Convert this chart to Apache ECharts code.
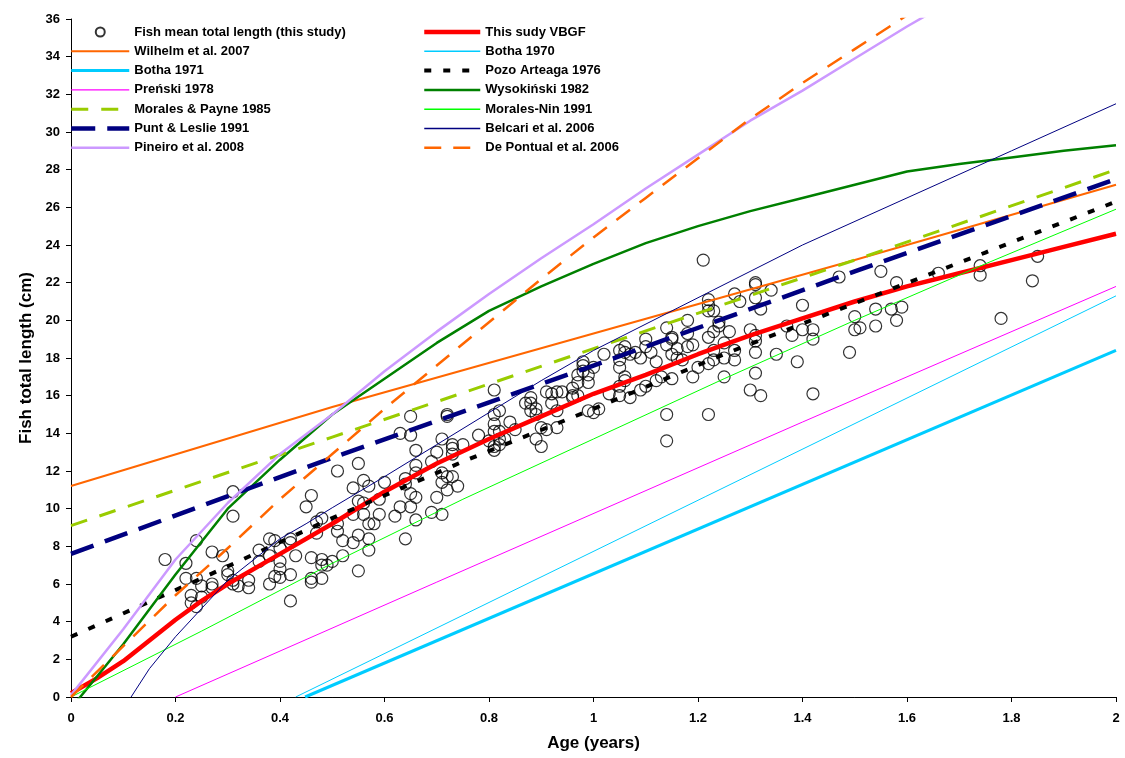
<!DOCTYPE html>
<html>
<head>
<meta charset="utf-8">
<script src="https://cdn.jsdelivr.net/npm/echarts@6/dist/echarts.min.js"></script>
<style>
html,body{margin:0;padding:0;background:#fff;}
#c{width:1125px;height:758px;}
</style>
</head>
<body>
<div id="c"></div>
<script>
// ---------- DATA ----------
const xTicks = [0,0.2,0.4,0.6,0.8,1,1.2,1.4,1.6,1.8,2];
const yTicks = [0,2,4,6,8,10,12,14,16,18,20,22,24,26,28,30,32,34,36];

const fishMeanLength = [
[0.18,7.3],[0.22,7.1],[0.24,8.3],[0.31,9.6],[0.31,10.9],[0.27,7.7],[0.29,7.5],[0.22,6.3],[0.24,6.3],[0.25,5.9],
[0.27,6.0],[0.27,5.8],[0.23,5.4],[0.25,5.3],[0.23,5.0],[0.24,4.8],[0.30,6.7],[0.30,6.5],[0.31,6.2],[0.31,6.0],
[0.32,5.9],[0.34,6.2],[0.34,5.8],[0.36,7.8],[0.36,7.2],[0.38,8.4],[0.38,7.5],[0.39,8.3],[0.40,7.2],[0.40,6.8],
[0.39,6.4],[0.40,6.35],[0.38,6.0],[0.40,7.9],[0.42,8.4],[0.42,8.2],[0.43,7.5],[0.42,6.5],[0.42,5.1],[0.45,10.1],
[0.46,10.7],[0.47,9.3],[0.48,9.5],[0.47,8.7],[0.46,7.4],[0.46,6.3],[0.46,6.1],[0.48,6.3],[0.48,7.3],[0.48,7.0],
[0.49,7.0],[0.50,7.2],[0.51,9.2],[0.51,8.8],[0.52,8.3],[0.52,7.5],[0.54,11.1],[0.55,10.4],[0.54,9.7],[0.55,8.6],
[0.54,8.2],[0.55,6.7],
[0.65,14.9],[0.63,14.0],[0.65,13.9],[0.72,14.9],[0.72,15.0],[0.71,13.7],[0.81,16.3],[0.51,12.0],[0.55,12.4],[0.56,11.5],
[0.57,11.2],[0.60,11.4],[0.56,10.3],[0.59,10.5],[0.56,9.7],[0.59,9.7],[0.57,9.2],[0.58,9.2],[0.57,8.4],[0.57,7.8],
[0.62,9.6],[0.64,8.4],[0.66,9.4],[0.69,9.8],[0.71,9.7],[0.63,10.1],[0.65,10.1],[0.66,10.6],[0.65,10.8],[0.64,11.3],
[0.64,11.6],[0.66,11.9],[0.66,13.1],[0.66,12.3],[0.69,12.5],[0.70,13.0],[0.70,10.6],[0.72,11.0],[0.71,11.4],[0.72,11.7],
[0.71,11.9],[0.73,11.7],[0.74,11.2],[0.73,13.2],[0.73,12.9],[0.73,13.4],[0.75,13.4],[0.78,13.9],[0.81,15.0],[0.82,15.2],
[0.81,14.5],[0.84,14.6],[0.82,14.1],[0.85,14.2],[0.81,14.1],[0.80,13.6],[0.81,13.1],[0.82,13.7],[0.82,13.4],[0.81,13.3],
[0.83,13.7],[0.87,15.6],[0.88,15.9],[0.88,15.6],[0.88,15.2],[0.89,15.3],[0.91,16.2],[0.92,16.1],[0.93,16.2],[0.94,16.2],
[0.92,15.6],[0.89,15.0],[0.90,14.3],[0.91,14.2],[0.93,14.3],[0.89,13.7],[0.90,13.3],[0.93,15.2],[0.96,15.9],[0.96,16.0],
[0.97,16.0],[0.96,16.4],[0.97,16.7],[0.99,16.7],[0.97,17.1],[0.98,17.3],[0.99,17.1],[0.98,17.6],[1.00,17.5],[0.98,17.8],
[0.99,15.2],[1.01,15.3],[1.00,15.1],
[1.21,23.2],[1.31,21.9],[1.31,22.0],[1.34,21.6],[1.27,21.4],[1.28,21.0],[1.31,21.2],[1.47,22.3],[1.40,20.8],[1.32,20.6],
[1.22,21.1],[1.22,20.8],[1.22,20.5],[1.23,20.5],[1.18,20.0],[1.24,19.9],[1.24,19.7],[1.26,19.4],[1.23,19.4],[1.22,19.1],
[1.25,18.8],[1.30,19.5],[1.31,19.2],[1.31,18.9],[1.31,18.3],[1.27,18.4],[1.27,17.9],[1.23,18.4],[1.23,17.9],[1.19,18.7],
[1.18,18.6],[1.18,19.3],[1.14,19.6],[1.15,19.0],[1.15,19.1],[1.14,18.7],[1.16,18.5],[1.15,18.2],[1.16,18.0],[1.17,17.9],
[1.10,19.0],[1.10,18.6],[1.08,18.3],[1.11,18.3],[1.12,17.8],[1.09,18.0],[1.02,18.2],[1.05,16.0],[1.03,16.1],[1.07,15.9],
[1.09,16.3],[1.05,16.5],[1.06,17.0],[1.05,17.9],[1.05,18.4],[1.06,18.6],[1.06,18.3],[1.05,17.5],[1.06,16.8],[1.07,18.2],
[1.10,16.5],[1.12,16.8],[1.13,17.0],[1.15,16.9],[1.19,17.0],[1.20,17.5],[1.22,17.7],[1.25,18.0],[1.25,17.0],[1.14,15.0],
[1.22,15.0],[1.14,13.6],[1.30,16.3],[1.32,16.0],[1.31,17.2],[1.35,18.2],[1.37,19.7],[1.38,19.2],[1.39,17.8],[1.40,19.5],
[1.42,19.5],[1.42,19.0],[1.42,16.1],[1.49,18.3],
[1.55,22.6],[1.58,22.0],[1.66,22.5],[1.74,22.9],[1.74,22.4],[1.85,23.4],[1.84,22.1],[1.78,20.1],[1.50,20.2],[1.50,19.5],
[1.51,19.6],[1.54,20.6],[1.54,19.7],[1.57,20.6],[1.59,20.7],[1.58,20.0]
];

const thisStudyVBGF = [[0,0.2],[0.05,1.0],[0.1,1.9],[0.15,3.0],[0.2,4.1],[0.25,5.1],[0.3,6.0],[0.4,7.6],[0.5,9.2],[0.6,10.9],[0.7,12.4],[0.8,13.7],[0.9,14.9],[1.0,16.1],[1.1,17.1],[1.2,18.2],[1.3,19.2],[1.4,20.1],[1.5,21.0],[1.6,21.8],[1.7,22.5],[1.8,23.2],[1.9,23.9],[2.0,24.6]];
const wilhelm2007 = [[0,11.2],[0.5,15.4],[1.0,19.3],[1.5,23.2],[2.0,27.2]];
const botha1970 = [[0.43,0],[2.0,21.3]];
const botha1971 = [[0.448,0],[2.0,18.4]];
const pozoArteaga1976 = [[0,3.2],[0.25,6.3],[0.5,9.5],[0.75,12.5],[1.0,15.3],[1.25,18.2],[1.5,20.9],[1.75,23.6],[2.0,26.3]];
const prenski1978 = [[0.2,0],[0.7,6.1],[1.4,14.6],[2.0,21.8]];
const wysokinski1982 = [[0,-0.6],[0.1,2.8],[0.2,6.5],[0.3,10.0],[0.4,12.6],[0.5,15.0],[0.6,16.9],[0.7,18.8],[0.8,20.5],[0.9,21.8],[1.0,23.0],[1.1,24.1],[1.2,25.0],[1.3,25.8],[1.4,26.5],[1.5,27.2],[1.6,27.9],[1.7,28.3],[1.8,28.65],[1.9,29.0],[2.0,29.3]];
const moralesPayne1985 = [[0,9.1],[0.5,13.8],[1.0,18.5],[1.5,23.2],[2.0,28.0]];
const moralesNin1991 = [[0,0],[0.25,3.5],[0.5,7.1],[0.75,10.5],[1.0,13.7],[1.25,16.9],[1.5,20.0],[1.75,23.0],[2.0,25.9]];
const puntLeslie1991 = [[0,7.6],[0.5,12.7],[1.0,17.6],[1.5,22.6],[2.0,27.5]];
const belcari2006 = [[0.115,0],[0.15,1.5],[0.2,3.2],[0.25,4.7],[0.3,6.2],[0.35,7.3],[0.4,8.4],[0.45,9.2],[0.5,10.05],[0.6,11.7],[0.7,13.4],[0.8,15.1],[0.9,16.8],[1.0,18.4],[1.2,21.2],[1.4,24.0],[1.6,26.5],[1.8,29.0],[2.0,31.5]];
const pineiro2008 = [[0,0.1],[0.1,3.6],[0.2,7.3],[0.3,10.3],[0.4,12.9],[0.5,15.0],[0.6,17.3],[0.7,19.4],[0.8,21.4],[0.9,23.3],[1.0,25.1],[1.1,27.0],[1.2,28.8],[1.3,30.6],[1.4,32.2],[1.5,33.9],[1.6,35.6],[1.7,37.2]];
const dePontual2006 = [[0,0],[0.1,2.7],[0.2,5.4],[0.3,7.9],[0.4,10.5],[0.5,12.9],[0.6,15.3],[0.7,17.6],[0.8,19.9],[0.9,22.2],[1.0,24.4],[1.1,26.5],[1.2,28.6],[1.3,30.7],[1.4,32.6],[1.5,34.4],[1.6,36.2]];

// ---------- CHART ----------
const FONT = '"Liberation Sans", Arial, sans-serif';
const widths = {};
function line(name, data, color, width, type) {
  widths[name] = width;
  return {
    name, type: 'line', data, symbol: 'none', smooth: false, clip: true,
    lineStyle: { color, width, type: type || 'solid', cap: 'butt', join: 'round' },
    itemStyle: { color }, emphasis: { disabled: true }, z: 3
  };
}

const series = [
  {
    name: 'Fish mean total length (this study)', type: 'scatter', data: fishMeanLength,
    symbol: 'circle', symbolSize: 12, z: 2,
    itemStyle: { color: 'rgba(0,0,0,0)', borderColor: '#000', borderWidth: 1.2 },
    emphasis: { disabled: true }
  },
  line('This sudy VBGF', thisStudyVBGF, '#FF0000', 4.5),
  line('Wilhelm et al. 2007', wilhelm2007, '#FF6600', 2),
  line('Botha 1970', botha1970, '#00CCFF', 1),
  line('Botha 1971', botha1971, '#00CCFF', 3),
  line('Pozo Arteaga 1976', pozoArteaga1976, '#000000', 4, [7, 12]),
  line('Preński 1978', prenski1978, '#FF00FF', 1),
  line('Wysokiński 1982', wysokinski1982, '#008000', 2.5),
  line('Morales & Payne 1985', moralesPayne1985, '#99CC00', 3, [17, 13]),
  line('Morales-Nin 1991', moralesNin1991, '#00FF00', 1),
  line('Punt & Leslie 1991', puntLeslie1991, '#000080', 4.5, [24, 12]),
  line('Belcari et al. 2006', belcari2006, '#000080', 1),
  line('Pineiro et al. 2008', pineiro2008, '#CC99FF', 2.5),
  line('De Pontual et al. 2006', dePontual2006, '#FF6600', 2.5, [17, 12])
];

const legendLeft = ['Fish mean total length (this study)','Wilhelm et al. 2007','Botha 1971','Preński 1978','Morales & Payne 1985','Punt & Leslie 1991','Pineiro et al. 2008'];
const legendRight = ['This sudy VBGF','Botha 1970','Pozo Arteaga 1976','Wysokiński 1982','Morales-Nin 1991','Belcari et al. 2006','De Pontual et al. 2006'];

function legend(names, left, w) {
  return {
    data: names.map(n => widths[n] === undefined
      ? { name: n }
      : { name: n, itemStyle: { opacity: 0 }, lineStyle: { width: Math.max(widths[n], 1.4) } }),
    left, top: 22.5, orient: 'vertical', padding: 0, itemGap: 0.3,
    itemWidth: w, itemHeight: 9, selectedMode: false,
    textStyle: { fontFamily: FONT, fontWeight: 'bold', fontSize: 13, color: '#000', lineHeight: 19 }
  };
}

const chart = echarts.init(document.getElementById('c'), null, { renderer: 'canvas' });
chart.setOption({
  animation: false,
  backgroundColor: '#fff',
  grid: { left: 71, right: 9, top: 19, bottom: 61, containLabel: false },
  legend: [legend(legendLeft, 69, 58), legend(legendRight, 422, 56)],
  xAxis: {
    type: 'value', min: xTicks[0], max: xTicks[xTicks.length - 1], interval: 0.2,
    name: 'Age (years)', nameLocation: 'middle', nameGap: 38,
    nameTextStyle: { fontFamily: FONT, fontWeight: 'bold', fontSize: 17, color: '#000' },
    axisLine: { lineStyle: { color: '#000', width: 1 } },
    axisTick: { show: true, inside: false, length: 5, lineStyle: { color: '#000' } },
    axisLabel: { margin: 15, fontFamily: FONT, fontWeight: 'bold', fontSize: 13, color: '#000',
      formatter: v => String(Number(v.toFixed(1))) },
    splitLine: { show: false }
  },
  yAxis: {
    type: 'value', min: yTicks[0], max: yTicks[yTicks.length - 1], interval: 2,
    name: 'Fish total length (cm)', nameLocation: 'middle', nameGap: 34, nameRotate: 90,
    nameTextStyle: { fontFamily: FONT, fontWeight: 'bold', fontSize: 17, color: '#000' },
    axisLine: { show: true, lineStyle: { color: '#000', width: 1 } },
    axisTick: { show: true, inside: false, length: 5, lineStyle: { color: '#000' } },
    axisLabel: { margin: 11, fontFamily: FONT, fontWeight: 'bold', fontSize: 13, color: '#000' },
    splitLine: { show: false }
  },
  series
});
</script>
</body>
</html>
